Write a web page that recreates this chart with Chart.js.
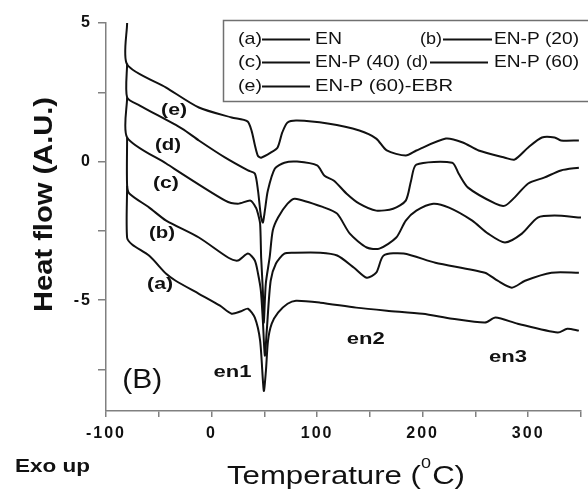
<!DOCTYPE html>
<html><head><meta charset="utf-8">
<script src="https://cdn.jsdelivr.net/npm/chart.js@4"></script>
<style>html,body{margin:0;padding:0;background:#fff}canvas{display:block}</style>
</head><body>
<canvas id="c" width="588" height="489"></canvas>
<script>
// ---- data (Temperature °C, Heat flow A.U.) ----
const tempA = [-80,-80,-75,-59,-43,-34,-12,8,19,28,34.5,41,46,49.5,51.5,53.5,57,63,72,80,103,137,166,200,228,259,269,290,328,337,348];
const heatA = [-0.87,-2.75,-3.0,-3.4,-4.05,-4.3,-4.77,-5.2,-5.49,-5.4,-5.31,-5.63,-6.46,-8.27,-7.55,-6.46,-5.85,-5.45,-5.13,-5.02,-5.09,-5.27,-5.38,-5.49,-5.67,-5.81,-5.63,-5.85,-6.17,-6.03,-6.1];
const tempB = [-80,-80,-77.7,-59,-43,-12,16,25,34.5,41,44,46.7,48.6,50.5,52.3,56,61,69,79,103,119,135,147,156,163,182,212,259,271,284.5,297,322,348];
const heatB = [0.87,-0.87,-1.16,-1.66,-2.13,-2.74,-3.47,-3.57,-3.32,-3.57,-4.04,-4.66,-5.74,-7.0,-6.1,-4.3,-3.68,-3.32,-3.29,-3.29,-3.39,-3.83,-4.19,-4.01,-3.39,-3.32,-3.65,-4.01,-4.3,-4.55,-4.3,-4.01,-4.01];
const tempC = [-80,-80,-43,13,25,37,42,44,46,47,48.6,49.5,51.4,55,58,63,72,79,107,119,131,147,159,175,184,194,210,225,247,262,278,294,309,325,350];
const heatC = [2.31,0.87,-0.07,-1.41,-1.52,-1.41,-1.66,-1.88,-2.24,-3.47,-4.66,-5.81,-4.4,-3.47,-2.49,-2.02,-1.52,-1.34,-1.66,-1.88,-2.6,-3.1,-3.14,-2.74,-2.13,-1.77,-1.52,-1.66,-2.13,-2.6,-2.92,-2.6,-2.02,-1.95,-2.02];
const tempD = [-80,-80,-68,-28,-12,13,34.5,41,44,46.7,48.6,50.5,53.3,60,69,81,100,107,116,128,140,156,172,184,189,194,228,234,243,269,278,287,300,315,331,348];
const heatD = [3.54,2.31,2.02,1.19,0.76,0.14,-0.32,-0.43,-1.05,-1.95,-2.2,-1.77,-1.05,-0.25,-0.04,0,-0.14,-0.51,-0.69,-1.16,-1.52,-1.77,-1.7,-1.41,-0.69,-0.11,-0.04,-0.43,-0.94,-1.52,-1.59,-1.3,-0.79,-0.58,-0.32,-0.22];
const tempE = [-80,-80,-43,-12,19,34,38,41,44,47,56,62.6,67,72,81,110,140,156,166,184,194,222,238,253,278,287,300,313,325,331,348];
const heatE = [5,3.5,2.67,1.95,1.59,1.45,1.1,0.6,0.2,0.14,0.32,0.51,1.05,1.41,1.48,1.37,1.12,0.83,0.4,0.22,0.4,0.83,0.69,0.4,0.14,0.07,0.51,0.87,0.87,0.76,0.76];

const seriesCodes = ['(a)','(b)','(c)','(d)','(e)'];
const seriesNames = ['EN','EN-P (20)','EN-P (40)','EN-P (60)','EN-P (60)-EBR'];
const peakLabels = ['en1','en2','en3'];
const xTicks = [-100,0,100,200,300];
const yTicks = [-5,0,5];

// ---- build ----
const FAM = '"Liberation Sans", Arial, sans-serif';
function pts(t,h){ return t.map((v,i)=>({x:v,y:h[i]})); }
const allT=[tempA,tempB,tempC,tempD,tempE], allH=[heatA,heatB,heatC,heatD,heatE];
const datasets = allT.map((t,i)=>({
  label: seriesCodes[i]+' '+seriesNames[i],
  data: pts(t, allH[i]),
  showLine:true, borderColor:'#111', borderWidth:2, pointRadius:0, tension:0.25, fill:false
}));

// layout of text overlays (pixel / data anchors kept apart from data)
const curveLabelAt = [[-48.8,-4.44],[-46.9,-2.6],[-43.2,-0.79],[-41.3,0.58],[-35.5,1.84]];
const peakLabelAt = [[19.8,-7.62],[146,-6.43],[280.9,-7.08]];
const legendLayout = [
  {row:0, code:238, l1:262, l2:310, name:315, wc:24, wn:27},
  {row:0, code:420, l1:443, l2:492, name:494, wc:22, wn:85},
  {row:1, code:238, l1:262, l2:310, name:315, wc:24, wn:85},
  {row:1, code:406, l1:430, l2:488, name:494, wc:22, wn:85},
  {row:2, code:238, l1:262, l2:310, name:315, wc:24, wn:138}
];
const legendRows = [39.5, 62.5, 86.5];

function drawFit(ctx, s, x, y, font, w, align, rot, base){
  ctx.save(); ctx.font = font; ctx.letterSpacing='0px';
  const m = ctx.measureText(s).width; const sx = w ? w/m : 1;
  ctx.translate(x,y); if (rot) ctx.rotate(rot); ctx.scale(sx,1);
  ctx.textAlign = align||'center'; ctx.textBaseline = base||'middle';
  ctx.fillStyle='#111'; ctx.fillText(s,0,0); ctx.restore();
}

const overlay = {
  id:'overlay',
  beforeDraw(chart){ chart.ctx.letterSpacing='2px'; },
  afterDraw(chart){
    const ctx = chart.ctx; ctx.letterSpacing='0px';
    const xs = chart.scales.x, ys = chart.scales.y;
    // legend box
    ctx.save(); ctx.strokeStyle='#707070'; ctx.lineWidth=1.5;
    ctx.strokeRect(223.5, 20.5, 400, 81); ctx.restore();
    legendLayout.forEach((L,i)=>{
      const y = legendRows[L.row];
      drawFit(ctx, seriesCodes[i], L.code, y, '17px '+FAM, L.wc, 'left');
      ctx.save(); ctx.strokeStyle='#111'; ctx.lineWidth=1.8;
      ctx.beginPath(); ctx.moveTo(L.l1, y); ctx.lineTo(L.l2, y); ctx.stroke(); ctx.restore();
      drawFit(ctx, seriesNames[i], L.name, y, '17px '+FAM, L.wn, 'left');
    });
    // curve labels
    curveLabelAt.forEach((p,i)=>{
      drawFit(ctx, seriesCodes[i], xs.getPixelForValue(p[0]), ys.getPixelForValue(p[1]), 'bold 17px '+FAM, 26);
    });
    peakLabelAt.forEach((p,i)=>{
      drawFit(ctx, peakLabels[i], xs.getPixelForValue(p[0]), ys.getPixelForValue(p[1]), 'bold 17px '+FAM, 38);
    });
    drawFit(ctx, '(B)', xs.getPixelForValue(-65.6), ys.getPixelForValue(-7.9), '27px '+FAM, 40);
    // axis titles
    drawFit(ctx, 'Heat flow (A.U.)', 45, 204.5, 'bold 25px '+FAM, 215, 'center', -Math.PI/2);
    drawFit(ctx, 'Exo up', 15, 467, 'bold 19px '+FAM, 75, 'left');
    // x title with superscript
    ctx.save(); ctx.letterSpacing='0px';
    const f1='26px '+FAM, f0='15px '+FAM;
    ctx.font=f1; const w1=ctx.measureText('Temperature (').width, w2=ctx.measureText('C)').width;
    ctx.font=f0; const w0=ctx.measureText('0').width;
    const sx = 238/(w1+w0+w2+1);
    ctx.translate(227, 484); ctx.scale(sx,1); ctx.fillStyle='#111'; ctx.textBaseline='alphabetic'; ctx.textAlign='left';
    ctx.font=f1; ctx.fillText('Temperature (',0,0);
    ctx.font=f0; ctx.fillText('0', w1, -16);
    ctx.font=f1; ctx.fillText('C)', w1+w0+1, 0);
    ctx.restore();
  }
};

new Chart(document.getElementById('c'), {
  type:'scatter',
  data:{datasets},
  options:{
    responsive:false, animation:false, devicePixelRatio:1,
    layout:{padding:{top:23,right:1,left:0,bottom:0}},
    plugins:{legend:{display:false}, tooltip:{enabled:false}},
    scales:{
      x:{type:'linear', min:-100, max:350,
        afterFit(s){ s.height = 78; },
        ticks:{stepSize:50, autoSkip:false, maxRotation:0, padding:7, color:'#111',
          font:{family:FAM, size:16, weight:'bold'},
          callback:v=> xTicks.includes(v) ? String(v) : ''},
        grid:{drawOnChartArea:false, drawTicks:true, tickLength:6, color:'#808080', lineWidth:1.5},
        border:{display:true, color:'#808080', width:1.5}},
      y:{type:'linear', min:-9, max:5,
        afterFit(s){ s.width = 106; },
        ticks:{stepSize:2.5, includeBounds:false, autoSkip:false, padding:6, color:'#111',
          font:{family:FAM, size:16, weight:'bold'},
          callback:v=> yTicks.includes(v) ? String(v) : ''},
        grid:{drawOnChartArea:false, drawTicks:true, tickLength:8, color:'#808080', lineWidth:1.5},
        border:{display:true, color:'#808080', width:1.5}}
    }
  },
  plugins:[overlay]
});
</script>
</body></html>
